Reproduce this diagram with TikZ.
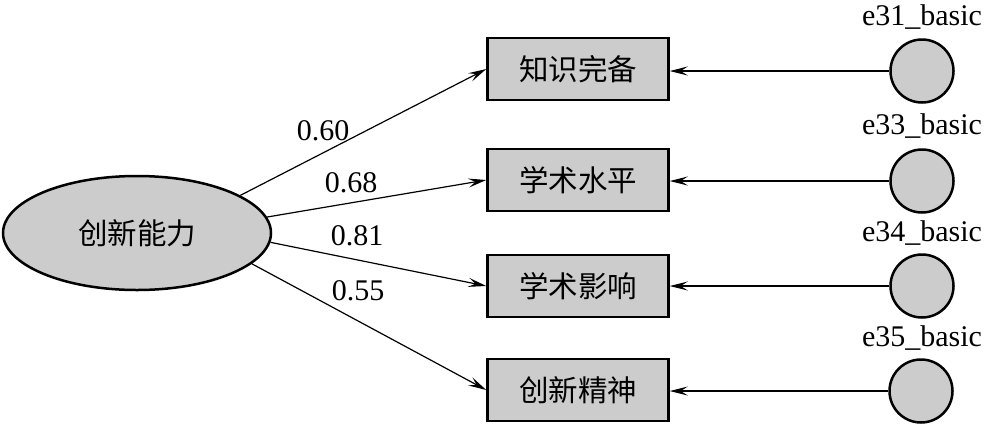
\documentclass[tikz,border=0pt]{standalone}
\usepackage{fontspec}
\setmainfont{Liberation Serif}
\newfontfamily\cjk{Noto Sans CJK SC}
\usetikzlibrary{arrows.meta,shapes.geometric}
\definecolor{boxgray}{HTML}{CCCCCC}
\tikzset{
  obs/.style={draw, line width=2.5pt, fill=boxgray, minimum width=181pt, minimum height=62pt, inner sep=0pt, font=\cjk\fontsize{29.5}{31}\selectfont},
  lat/.style={ellipse, draw, line width=2.5pt, fill=boxgray, minimum width=268pt, minimum height=114pt, inner sep=0pt, font=\cjk\fontsize{29.5}{31}\selectfont},
  err/.style={circle, draw, line width=2.5pt, fill=boxgray, minimum size=63pt, inner sep=0pt},
  lbl/.style={font=\fontsize{30}{32}\selectfont, inner sep=0pt},
  path/.style={line width=1.2pt, -{Stealth[length=18pt,width=9pt,inset=7pt]}}
}
\begin{document}
\begin{tikzpicture}[x=1pt,y=-1pt]
\useasboundingbox (0,0) rectangle (984,426);
\node[lat] (f) at (137,233) {创新能力};
\node[obs] (b1) at (578,69) {知识完备};
\node[obs] (b2) at (578,180) {学术水平};
\node[obs] (b3) at (578,286) {学术影响};
\node[obs] (b4) at (578,390) {创新精神};
\node[err] (e1) at (922,71) {};
\node[err] (e2) at (922,181) {};
\node[err] (e3) at (922,286) {};
\node[err] (e4) at (921,391) {};
\node[lbl] (t1) at (922,17) {e31\_basic};
\node[lbl] (t2) at (922,126) {e33\_basic};
\node[lbl] (t3) at (922,233) {e34\_basic};
\node[lbl] (t4) at (922,338) {e35\_basic};
\node[lbl] (l1) at (323,131) {0.60};
\node[lbl] (l2) at (351,183) {0.68};
\node[lbl] (l3) at (357,236) {0.81};
\node[lbl] (l4) at (358,291) {0.55};
\draw[path] (f.20) -- (b1.west);
\draw[path] (f.7) -- (b2.west);
\draw[path] (f.-4) -- (b3.west);
\draw[path] (f.-15) -- (b4.west);
\draw[path] (e1.west) -- (e1.west -| b1.east);
\draw[path] (e2.west) -- (e2.west -| b2.east);
\draw[path] (e3.west) -- (e3.west -| b3.east);
\draw[path] (e4.west) -- (e4.west -| b4.east);
\end{tikzpicture}
\end{document}
